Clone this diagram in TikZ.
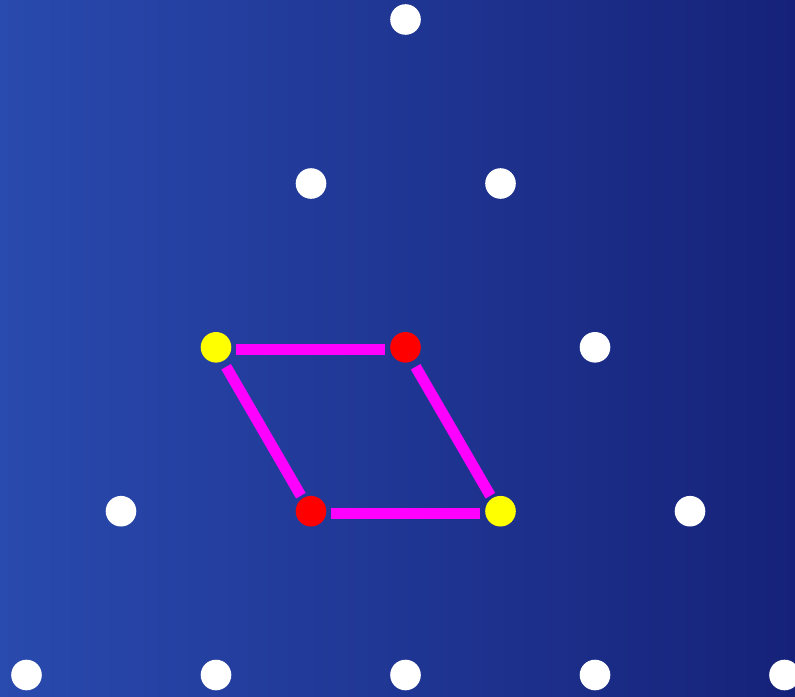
\documentclass[tikz,border=0pt]{standalone}
\definecolor{bgleft}{RGB}{41,74,174}
\definecolor{bgright}{RGB}{22,34,121}
\definecolor{magline}{RGB}{255,0,255}
\definecolor{dotyellow}{RGB}{255,255,0}
\definecolor{dotred}{RGB}{255,0,0}
\tikzset{
  dot/.style={circle, inner sep=0pt, minimum size=30.6pt, draw=none, fill=white},
  ydot/.style={dot, fill=dotyellow},
  rdot/.style={dot, fill=dotred},
  edgeline/.style={draw=magline, line width=11pt, shorten <=4.7pt, shorten >=4.7pt,
    transform canvas={yshift=-2pt}}
}
\begin{document}
\begin{tikzpicture}[x=1pt,y=-1pt]
\useasboundingbox (0,0) rectangle (795,696);
\shade[left color=bgleft, right color=bgright] (0,0) rectangle (795,696);
% row 0
\node[dot] (a1) at (405.5,19.5) {};
% row 1
\node[dot] (b1) at (311,183.5) {};
\node[dot] (b2) at (500.5,183.5) {};
% row 2
\node[ydot] (c1) at (216,347.3) {};
\node[rdot] (c2) at (405.5,347.3) {};
\node[dot] (c3) at (595,347.3) {};
% row 3
\node[dot] (d1) at (121,511.2) {};
\node[rdot] (d2) at (311,511.2) {};
\node[ydot] (d3) at (500.5,511.2) {};
\node[dot] (d4) at (690,511.2) {};
% row 4
\node[dot] (e1) at (26.5,675) {};
\node[dot] (e2) at (216,675) {};
\node[dot] (e3) at (405.5,675) {};
\node[dot] (e4) at (595,675) {};
\node[dot] (e5) at (784.5,675) {};
% parallelogram
\draw[edgeline] (c1) -- (c2);
\draw[edgeline] (c1) -- (d2);
\draw[edgeline] (c2) -- (d3);
\draw[edgeline] (d2) -- (d3);
\end{tikzpicture}
\end{document}
